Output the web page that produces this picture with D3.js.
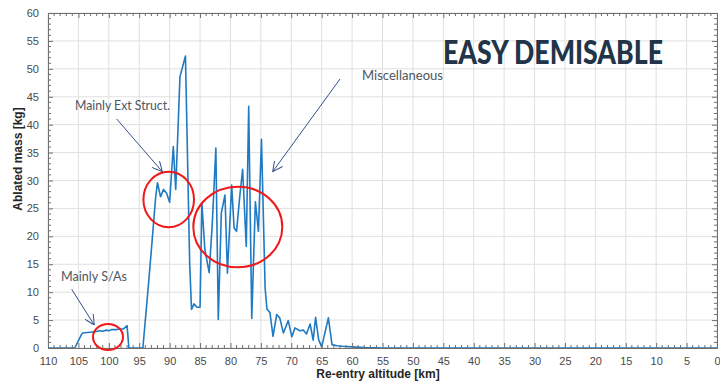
<!DOCTYPE html>
<html><head><meta charset="utf-8">
<script src="https://cdn.jsdelivr.net/npm/d3@7"></script>
<style>body{margin:0;background:#fff}svg{display:block}</style>
</head><body><svg id="c" width="720" height="382"></svg>
<script>
const altitude = [110,106,105.6,104.5,104.3,102.3,101.5,101,100.4,100,99.5,98.7,98.2,97.6,97.0,96.7,94.4,
  93.6,93.0,92.3,92.0,91.5,91.0,90.5,90.0,89.4,89.0,88.3,87.4,86.7,86.4,86.0,85.5,85.0,84.7,84.2,83.5,83.0,
  82.4,82.0,81.5,80.9,80.5,79.8,79.4,79.0,78.5,78.0,77.4,77.0,76.5,75.9,75.4,74.9,74.3,74.0,73.5,73.0,
  72.4,71.9,71.3,70.5,69.9,69.4,68.6,68.0,67.5,66.9,66.4,66.0,65.5,65.0,63.9,63.3,62.5,61.5,60,58,56,55,0];
const mass = [0,0,0,2.4,2.7,2.9,3.1,3.0,3.2,3.1,3.3,3.3,3.4,3.4,4.0,0,0,
  9.9,17.6,27,29.6,27.1,28.4,27.7,26.1,36.1,28.4,48.6,52.3,15,6.9,7.9,7.3,7.3,25.9,17.6,13.5,22,
  35.8,5.1,24.2,27.4,13.4,29.2,21.5,20.9,26.8,32.0,18.2,43.3,5.3,26.2,20.9,37.4,10.7,7.0,6.3,2.1,
  6.0,5.4,2.7,4.9,2.0,3.6,3.1,3.2,2.5,4.3,1.4,5.5,1.5,0.2,5.4,0.6,0.4,0.3,0.2,0.1,0.05,0,0];
const xTicks = d3.range(110, -1, -5);
const yTicks = d3.range(0, 61, 5);
const annotations = ["Mainly Ext Struct.", "Mainly S/As", "Miscellaneous"];
const title = "EASY DEMISABLE";

const svg = d3.select("#c");
const L = 48, T = 13, R = 717, B = 348;
const x = d3.scaleLinear().domain([110, 0]).range([L, R]);
const y = d3.scaleLinear().domain([0, 60]).range([B, T]);

// grid
const g = svg.append("g");
g.selectAll(".gx").data(xTicks).join("line")
  .attr("x1", d => x(d)).attr("x2", d => x(d)).attr("y1", T).attr("y2", B)
  .attr("stroke", "#e0e0e0").attr("stroke-width", 1);
g.selectAll(".gy").data(yTicks).join("line")
  .attr("y1", d => y(d)).attr("y2", d => y(d)).attr("x1", L).attr("x2", R)
  .attr("stroke", "#e0e0e0").attr("stroke-width", 1);

// line
const pts = altitude.map((a, i) => [a, mass[i]]);
svg.append("path").datum(pts)
  .attr("d", d3.line().x(d => x(d[0])).y(d => y(d[1])))
  .attr("fill", "none").attr("stroke", "#1f7ac4").attr("stroke-width", 1.6)
  .attr("stroke-linejoin", "round");

// axes
const axCol = "#6f6f6f";
const xAx = svg.append("g").attr("transform", `translate(0,${B})`)
  .call(d3.axisBottom(x).tickValues(xTicks).tickSize(-5).tickPadding(9));
const xAxT = svg.append("g").attr("transform", `translate(0,${T})`)
  .call(d3.axisTop(x).tickValues(xTicks).tickSize(-5).tickFormat(""));
const yAx = svg.append("g").attr("transform", `translate(${L},0)`)
  .call(d3.axisLeft(y).tickValues(yTicks).tickSize(-5).tickPadding(9));
const yAxR = svg.append("g").attr("transform", `translate(${R},0)`)
  .call(d3.axisRight(y).tickValues(yTicks).tickSize(-5).tickFormat(""));
// minor ticks
const xMinor = d3.range(110, -1, -1).filter(v => v % 5 !== 0);
const yMinor = d3.range(0, 61, 1).filter(v => v % 5 !== 0);
[[B, -3], [T, 3]].forEach(([yy, dl]) => {
  svg.append("g").selectAll("line").data(xMinor).join("line")
    .attr("x1", d => x(d)).attr("x2", d => x(d)).attr("y1", yy).attr("y2", yy + dl)
    .attr("stroke", axCol).attr("stroke-width", 1);
});
[[L, 3], [R, -3]].forEach(([xx, dl]) => {
  svg.append("g").selectAll("line").data(yMinor).join("line")
    .attr("y1", d => y(d)).attr("y2", d => y(d)).attr("x1", xx).attr("x2", xx + dl)
    .attr("stroke", axCol).attr("stroke-width", 1);
});
[xAx, xAxT, yAx, yAxR].forEach(a => {
  a.selectAll("path,line").attr("stroke", axCol);
  a.selectAll("text").attr("fill", "#4a4a4a").style("font-family", "Arial, 'Liberation Sans', sans-serif").style("font-size", "11px");
});

// axis labels
svg.append("text").attr("x", 378).attr("y", 378).attr("text-anchor", "middle")
  .style("font-family", "Arial, 'Liberation Sans', sans-serif").style("font-size", "12px").style("font-weight", "bold")
  .attr("fill", "#262626").text("Re-entry altitude [km]");
svg.append("text").attr("transform", "translate(22,159) rotate(-90)").attr("text-anchor", "middle")
  .style("font-family", "Arial, 'Liberation Sans', sans-serif").style("font-size", "12px").style("font-weight", "bold")
  .attr("fill", "#262626").text("Ablated mass [kg]");

// title
svg.append("text").attr("x", 443).attr("y", 64).attr("textLength", 220).attr("lengthAdjust", "spacingAndGlyphs")
  .style("font-family", "Lato, 'Open Sans', sans-serif").style("font-size", "33px").style("font-weight", "900")
  .attr("fill", "#223448").text(title);

// annotations text
const annFont = "Lato, 'Open Sans', sans-serif";
const annPos = [[75, 110, 95], [61, 281, 66], [362, 80, 81]];
annotations.forEach((t, i) => {
  svg.append("text").attr("x", annPos[i][0]).attr("y", annPos[i][1])
    .attr("textLength", annPos[i][2]).attr("lengthAdjust", "spacingAndGlyphs")
    .style("font-family", annFont).style("font-size", "12.5px").attr("fill", "#4d5663").text(t);
});

// arrows
const defs = svg.append("defs");
defs.append("marker").attr("id", "ah").attr("viewBox", "0 0 10 10").attr("refX", 10).attr("refY", 5)
  .attr("markerWidth", 10).attr("markerHeight", 10).attr("markerUnits", "userSpaceOnUse").attr("orient", "auto")
  .append("path").attr("d", "M0,0 L10,5 L0,10").attr("fill", "none").attr("stroke", "#34508c").attr("stroke-width", 1);
const arrows = [[116.7, 119, 162.3, 171.7], [71.7, 289.3, 94.3, 325], [340, 79, 272.7, 171.7]];
arrows.forEach(a => {
  svg.append("line").attr("x1", a[0]).attr("y1", a[1]).attr("x2", a[2]).attr("y2", a[3])
    .attr("stroke", "#34508c").attr("stroke-width", 1).attr("marker-end", "url(#ah)");
});

// red ellipses
const ellipses = [[108, 337, 15, 13], [168.7, 199.5, 25.3, 27.8], [237.8, 227, 44.5, 40.3]];
ellipses.forEach(e => {
  svg.append("ellipse").attr("cx", e[0]).attr("cy", e[1]).attr("rx", e[2]).attr("ry", e[3])
    .attr("fill", "none").attr("stroke", "#f01818").attr("stroke-width", 2);
});
</script></body></html>
